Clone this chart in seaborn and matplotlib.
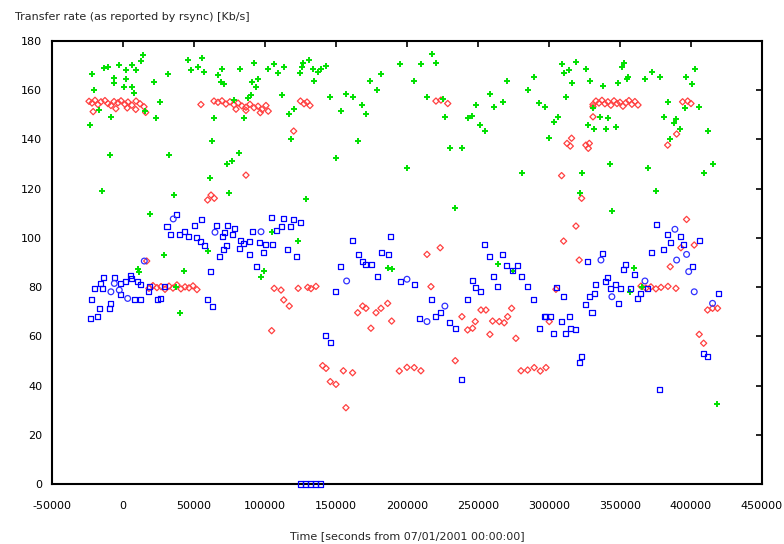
import matplotlib
matplotlib.use("Agg")
import matplotlib.pyplot as plt
import seaborn as sns
import pandas as pd

# ---- data (seconds, Kb/s) ----
green_x = [-22040, -13170, -10770, -2600, 6130, 14300, 12680, 9150, 2110, -6550, 2110, -6130, 490, 6340,
           -20630, 7530, 21620, 31480, 26060, -17110, -8450, -23240, 23240, 15700, -8940, -15000, 32600,
           35700, 19010, 45560, 55630, 52600, 47890, 57250, 66690, 69720, 69010, 71340, 82390, 92040,
           106120, 113170, 101900, 108940, 94860, 90630, 93660, 111760, 90140, 87810, 78380, 64290, 85420,
           62670, 81470, 76760, 73020, 61270, 74860, 125840, 124860, 120210, 116690, 118310, 128870,
           126550, 131190, 133590, 137110, 139430, 142950, 134710, 145770, 157040, 161760, 168300, 171120,
           153520, 165270, 150000, 181680, 174150, 178870, 194850, 209850, 217600, 220420, 204710, 213870,
           225130, 226750, 230270, 238720, 200000, 234000, 242740, 245770, 248580, 251610, 255130, 258440,
           261050, 267800, 270200, 285200, 289210, 293160, 297170, 300200, 280760, 309140, 319000, 314280,
           310340, 326050, 315970, 328860, 311960, 306120, 303720, 330760, 335900, 341330, 327670, 331900,
           340130, 347170, 338230, 348790, 352590, 351190, 355410, 354710, 342940, 323230, 321820, 344350,
           372520, 367800, 378160, 383580, 380760, 389420, 388230, 392250, 385410, 369490, 375340, 396460,
           402800, 400690, 395760, 405410, 411750, 415270, 408930, 418300, 28660, 10770, 11480, 42750,
           37320, 40140, 104710, 123020, 59650, 99080, 97180, 186820, 189220, 263860, 274850, 360060,
           365480, 357030]
green_y = [166.5, 168.9, 169.5, 170.2, 170.4, 174.3, 171.9, 168.2, 168.2, 164.8, 164.4, 162.8, 161.2, 161.2,
           160.1, 159.0, 163.5, 166.5, 155.3, 152.0, 149.2, 145.9, 148.6, 151.7, 133.7, 119.0, 133.7,
           117.4, 109.7, 172.3, 173.2, 169.5, 168.2, 167.5, 166.2, 168.5, 163.5, 162.5, 168.5, 171.2,
           170.5, 169.5, 168.5, 167.1, 164.4, 163.2, 161.2, 158.0, 158.0, 156.7, 156.0, 148.6, 148.6,
           139.5, 134.6, 131.2, 129.9, 124.2, 118.4, 169.6, 167.1, 152.4, 150.2, 140.3, 115.9,
           170.9, 172.3, 168.5, 167.5, 168.5, 169.8, 163.9, 157.4, 158.5, 157.4, 154.0, 150.2,
           151.7, 139.5, 132.3, 166.5, 163.7, 160.1, 170.5, 170.5, 174.6, 171.2, 163.7, 157.4,
           156.3, 149.2, 136.4, 136.4, 128.3, 112.0, 148.6, 149.5, 154.0, 145.9, 143.4, 158.3,
           153.3, 155.3, 163.7, 160.1, 165.5, 155.0, 153.3, 140.5, 126.2, 170.5, 171.3, 168.2,
           167.1, 168.5, 162.8, 163.7, 157.4, 149.2, 147.2, 152.6, 149.2, 148.6, 145.9, 144.1,
           144.2, 145.2, 161.6, 162.8, 171.2, 169.5, 165.5, 164.4, 130.0, 126.2, 118.4, 110.9,
           167.5, 164.4, 165.5, 155.3, 149.2, 148.2, 146.8, 144.2, 140.2, 128.3, 119.2, 165.5,
           168.5, 162.5, 152.6, 153.3, 143.4, 130.0, 126.2, 32.5, 93.0, 87.2, 86.3, 86.5,
           80.2, 69.6, 102.3, 98.9, 94.8, 86.5, 84.0, 87.9, 87.2, 89.3, 86.5, 87.9,
           79.9, 78.1]

red_x = [-23900, -21800, -19700, -17600, -15500, -12700, -10600, -8500, -6300, -3500, -1400, 1400, 3500,
         6300, 9200, 12000, 14800, -21000, -5000, 3000, 9000, 16000,
         54900, 64100, 66900, 69700, 72500, 75300, 78200, 81000, 83800, 86600, 89400, 92300, 95100, 97900,
         100700, 96700, 102300, 86600, 79600,
         125000, 127500, 129600, 131700, 220400, 223900, 228700,
         331000, 333100, 335200, 337300, 339400, 341500, 343600, 345800, 347900, 350000, 352100, 354200,
         356300, 358400, 360500, 362700, 331000, 331000, 394100, 397700, 400000,
         315900, 312700, 315000, 326000, 328400, 327700, 308900, 323000, 319000, 389900, 383600, 396900,
         310300, 321300, 402300, 392900, 385400, 86600, 62000, 59600, 64300, 120200,
         18300, 21100, 23900, 26800, 29600, 32400, 35200, 38000, 40800, 43700, 46500, 49300, 52100, 16700,
         106500, 111300, 113200, 117100, 104700, 123400, 130100, 132400, 135900,
         140600, 143000, 155200, 161700, 146000, 150000, 157000, 194600, 200000, 205100, 209800,
         214100, 223400, 216900, 165300, 168800, 171100, 178200, 181700, 186400, 174600, 189200,
         238700, 242700, 246200, 248100, 252100, 255600, 260300, 265000, 268500, 270900, 273700, 258400,
         276700, 234000, 280300, 285000, 289600, 293900, 297900,
         364800, 368300, 371800, 375300, 378900, 383800, 389400, 304900, 300200, 411700, 415200, 418700,
         405800, 408900]
red_y = [155.5, 154.8, 155.9, 154.2, 155.3, 155.8, 154.6, 153.8, 155.4, 154.9, 155.7, 154.3, 155.2,
         153.9, 155.6, 154.5, 153.3, 151.3, 152.5, 152.8, 152.2, 151.0,
         154.2, 155.6, 155.1, 155.7, 154.4, 155.3, 154.1, 154.8, 153.6, 153.1, 154.3, 152.9, 153.5, 152.2,
         153.8, 150.9, 151.5, 151.8, 152.3,
         155.6, 154.5, 155.2, 153.8, 155.6, 156.0, 154.6,
         154.2, 155.6, 154.8, 155.9, 154.5, 155.3, 153.9, 155.7, 154.6, 155.1, 153.5, 154.9,
         155.8, 154.3, 155.4, 154.0, 153.3, 149.2, 155.3, 155.6, 154.6,
         140.5, 138.4, 137.3, 137.7, 138.4, 136.4, 125.3, 116.1, 104.8, 142.2, 137.7, 107.5,
         98.7, 91.0, 97.1, 96.0, 88.3, 125.5, 117.4, 115.4, 116.1, 143.4,
         79.5, 80.6, 79.8, 80.2, 79.1, 80.4, 79.6, 80.9, 79.3, 80.1, 79.7, 80.5, 79.0, 90.6,
         79.5, 78.8, 74.8, 72.3, 62.3, 79.5, 79.9, 79.4, 80.3,
         48.1, 47.0, 46.0, 45.2, 41.6, 40.5, 31.0, 45.9, 47.4, 47.3, 46.0,
         93.3, 96.0, 80.2, 69.6, 72.3, 71.4, 69.6, 71.4, 73.4, 63.3, 66.2,
         68.0, 62.6, 63.3, 66.0, 70.7, 70.7, 66.2, 66.0, 65.5, 68.0, 71.4, 60.8,
         59.2, 50.1, 46.0, 46.3, 47.3, 45.9, 47.3,
         80.4, 79.6, 80.1, 79.3, 79.9, 80.3, 79.5, 79.1, 66.0, 70.7, 71.4, 71.4,
         60.8, 57.2]

blue_sq_x = [37800, 31000, 55600, 50200, 66200, 73700, 78400, 71300, 33300, 40100, 43200, 46300, 52100,
             54400, 57700, 70200, 77200, 73000, 70600, 67800, 83100, 85000, 82400, 88900, 91300, 96000,
             100700, 105400, 89400, 99100, 93700, 104700, 113200, 119900, 124900, 111300, 118300, 108400,
             116000, 122500, 61500, 59200, 62700, -13600, -6100, -16000, -20200, -14300, -1900, 2100,
             5600, 6300, 9900, 12200, -22000, -16700, -9600, -8900, -23200, -17800, -1400, 8000, 12200,
             17800, 24400, 26100, 18500, 29100,
             161800, 188700, 165700, 168800, 171100, 175300, 182400, 187100, 153500, 178900, 149500,
             195100, 205100, 217400, 223900, 219900, 209100, 229800, 234500, 242700, 245800, 248600,
             251600, 254400, 258400, 267400, 261000, 263900, 270400, 274400, 277500, 280800, 285000,
             289200, 297900, 293200, 142500, 146000, 238700,
             376000, 383600, 392900, 385900, 394600, 405800, 380800, 372300, 401300, 419200, 408900,
             411700, 377700, 354200, 352600, 360100, 337800, 327200, 333100, 341300, 340100, 347200,
             350700, 357200, 369500, 364800, 362000, 343200, 348800, 332400, 328400, 326000, 330300,
             310100, 305600, 296700, 300900, 314800, 309100, 303300, 311500, 315500, 319000, 323000,
             321300, 125000, 128500, 132000, 135500, 139000]
blue_sq_y = [109.7, 104.8, 107.3, 105.2, 105.2, 105.2, 103.9, 102.3, 101.5, 101.5, 102.5, 100.5, 100.2,
             98.4, 97.1, 100.5, 101.2, 97.1, 95.3, 92.4, 98.9, 97.8, 95.8, 98.4, 102.5, 98.0,
             97.5, 97.5, 93.4, 94.1, 88.3, 108.4, 108.0, 107.5, 106.2, 104.5, 104.5, 102.9,
             95.3, 92.4, 86.5, 75.0, 72.3, 84.0, 84.0, 81.5, 79.5, 79.5, 81.5, 82.2,
             84.9, 83.3, 82.2, 80.9, 75.0, 71.4, 71.4, 73.4, 67.3, 68.0, 76.8, 74.8, 74.8,
             78.1, 75.0, 75.4, 80.2, 80.2,
             98.9, 100.5, 93.4, 90.3, 89.0, 89.3, 94.1, 93.3, 88.3, 84.2, 78.1,
             82.2, 80.9, 74.8, 69.6, 68.0, 67.3, 65.5, 63.3, 74.8, 82.5, 79.9,
             78.1, 97.4, 92.4, 93.3, 84.2, 80.2, 88.6, 86.9, 88.6, 84.2, 80.2,
             74.8, 68.0, 63.3, 60.5, 57.4, 42.5,
             105.5, 101.5, 100.5, 98.0, 97.4, 98.9, 95.3, 94.1, 88.3, 77.5, 53.1,
             52.0, 38.2, 89.0, 87.2, 85.3, 93.7, 90.3, 80.9, 84.0, 82.2, 80.9,
             79.5, 79.5, 79.5, 77.5, 75.5, 79.5, 73.4, 77.5, 76.1, 73.1, 69.8,
             76.1, 79.9, 68.0, 68.0, 68.0, 66.0, 61.2, 61.2, 63.3, 62.6, 52.0,
             49.3, 0, 0, 0, 0, 0]

blue_ci_x = [35400, 64800, 97200, -6100, -8500, -2600, 15000, 3300, 157500, 200000, 226700, 214100,
             388700, 396900, 389900, 398400, 402300, 415200, 336600, 367600, 344300]
blue_ci_y = [107.7, 102.3, 102.5, 81.5, 78.1, 78.8, 90.6, 75.4, 82.5, 83.2, 72.3, 66.0,
             103.5, 93.3, 91.0, 86.3, 78.1, 73.4, 91.0, 82.5, 76.1]

x_ticks = [-50000, 0, 50000, 100000, 150000, 200000, 250000, 300000, 350000, 400000, 450000]
y_ticks = [0, 20, 40, 60, 80, 100, 120, 140, 160, 180]
title_text = "Transfer rate (as reported by rsync) [Kb/s]"
xlabel_text = "Time [seconds from 07/01/2001 00:00:00]"

# ---- plot ----
sns.set_style("white")
plt.rcParams["font.family"] = ["DejaVu Sans"]

fig = plt.figure(figsize=(7.84, 5.44), dpi=100)
ax = fig.add_axes([0.0663, 0.1103, 0.9056, 0.8143])

green_df = pd.DataFrame({"x": green_x, "y": green_y})
red_df = pd.DataFrame({"x": red_x, "y": red_y})
bsq_df = pd.DataFrame({"x": blue_sq_x, "y": blue_sq_y})
bci_df = pd.DataFrame({"x": blue_ci_x, "y": blue_ci_y})

sns.scatterplot(data=red_df, x="x", y="y", ax=ax, marker="D", s=10,
                facecolor="none", edgecolor="#ff4040", linewidth=0.9, zorder=3)
sns.scatterplot(data=green_df, x="x", y="y", ax=ax, marker="+", s=22,
                color="#00e000", linewidth=1.4, zorder=4)
sns.scatterplot(data=bsq_df, x="x", y="y", ax=ax, marker="s", s=13,
                facecolor="none", edgecolor="#0000ff", linewidth=0.9, zorder=5, clip_on=False)
sns.scatterplot(data=bci_df, x="x", y="y", ax=ax, marker="o", s=17,
                facecolor="none", edgecolor="#3030ff", linewidth=0.9, zorder=5)

ax.set_xlim(-50000, 450000)
ax.set_ylim(0, 180)
ax.set_xticks(x_ticks)
ax.set_yticks(y_ticks)
ax.set_xticklabels([str(t) for t in x_ticks])
ax.set_yticklabels([str(t) for t in y_ticks])
ax.tick_params(direction="in", length=4, width=1.2, top=True, right=True,
               labelsize=8, colors="black")
ax.tick_params(axis="x", pad=12)
ax.tick_params(axis="y", pad=7)
for sp in ax.spines.values():
    sp.set_visible(True)
    sp.set_color("black")
    sp.set_linewidth(1.5)
ax.set_xlabel("")
ax.set_ylabel("")

fig.text(0.019, 0.968, title_text, fontsize=8, ha="left", va="center")
fig.text(0.519, 0.015, xlabel_text, fontsize=8, ha="center", va="center")

fig.savefig("out.png", dpi=100, facecolor="white")
